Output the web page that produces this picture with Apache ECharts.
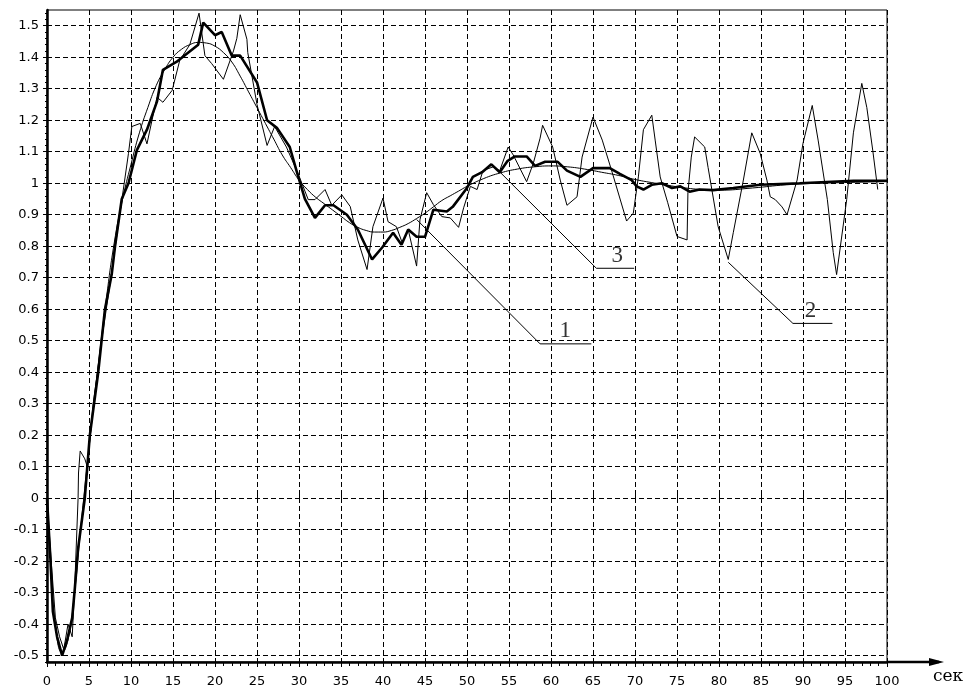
<!DOCTYPE html>
<html>
<head>
    <meta http-equiv="Content-Type" content="text/html; charset=utf-8" />
    <title></title>
    <script src="https://cdn.jsdelivr.net/npm/echarts@6/dist/echarts.min.js"></script>
    <style>
        html, body { margin: 0; padding: 0; background: #fff; }
    </style>
</head>
<body>
    <div id="main" style="width: 969px;height:688px;"></div>
</body>
<script type="text/javascript">
    // кривая 1 - жирная
    var time1 = [0, 0.4, 0.7, 1.2, 1.8, 2.4, 3.0, 3.3, 3.7, 4.5, 5.1, 6.1, 6.9, 7.7, 8.1, 8.9, 9.7, 10.7, 11.9, 13.1,
        13.8, 15.4, 18.0, 18.6, 20.0, 20.8, 22.0, 23.0, 25.0, 26.2, 27.4, 28.9, 29.7, 30.7, 31.9, 33.1, 34.1, 35.7, 37.0, 38.7,
        39.9, 41.2, 42.2, 43.0, 44.0, 45.0, 46.0, 47.6, 48.3, 50.0, 50.7, 51.8, 52.9, 53.9, 54.8, 55.7, 57.1, 58.1, 59.3, 60.8,
        61.9, 63.5, 65.0, 67.0, 68.2, 69.6, 70.2, 71.0, 72.0, 73.2, 74.4, 75.4, 76.5, 77.7, 79.3, 81.7, 84.9, 89.6, 96.0, 100];
    var value1 = [0, -0.19, -0.36, -0.44, -0.50, -0.45, -0.38, -0.29, -0.16, 0.0, 0.2, 0.4, 0.6, 0.71, 0.80, 0.95, 1.0, 1.105, 1.17, 1.26,
        1.36, 1.385, 1.44, 1.51, 1.47, 1.48, 1.405, 1.405, 1.32, 1.2, 1.175, 1.115, 1.04, 0.95, 0.89, 0.93, 0.93, 0.90, 0.853, 0.758,
        0.796, 0.843, 0.805, 0.853, 0.83, 0.83, 0.916, 0.91, 0.925, 0.985, 1.02, 1.035, 1.06, 1.035, 1.07, 1.085, 1.085, 1.055, 1.068, 1.068,
        1.04, 1.02, 1.048, 1.048, 1.03, 1.01, 0.99, 0.98, 0.995, 1.0, 0.985, 0.99, 0.973, 0.98, 0.978, 0.985, 0.995, 1.0, 1.008, 1.008];

    // кривая 2 - с шумом
    var time2 = [0, 0.5, 1.0, 1.5, 2.0, 2.5, 3.0, 3.3, 3.7, 3.75, 3.95, 4.5, 4.8, 5.5, 6.5, 7.5, 8.5, 9.7, 10.1, 11.1, 11.9,
        12.5, 13.1, 13.8, 14.9, 15.8, 17.0, 18.1, 18.8, 19.6, 21.0, 22.2, 22.6, 23.0, 23.8, 23.9, 25.0, 26.2, 27.1, 28.5, 29.9,
        31.1, 31.9, 33.1, 33.9, 35.1, 36.1, 37.0, 38.1, 38.8, 40.0, 40.6, 41.6, 42.3, 43.0, 44.0, 44.4, 45.2, 46.0, 47.0, 48.0,
        49.0, 49.6, 50.4, 51.2, 51.9, 53.1, 53.9, 54.9, 55.5, 57.1, 57.9, 58.7, 59.0, 60.2, 61.1, 61.9, 63.1, 63.7, 65.0, 66.1,
        67.3, 69.0, 69.8, 70.4, 71.0, 72.0, 72.4, 73.0, 73.9, 75.0, 76.2, 76.3, 76.7, 77.1, 78.3, 78.7, 79.9, 81.1, 81.7, 82.9,
        83.9, 84.9, 85.7, 86.1, 86.7, 87.5, 88.1, 89.3, 90.0, 91.1, 91.8, 92.9, 93.6, 94.0, 95.2, 96.0, 97.0, 97.6, 98.3, 98.9];
    var value2 = [0, -0.20, -0.38, -0.44, -0.48, -0.40, -0.44, -0.28, 0.0, 0.08, 0.15, 0.125, 0.10, 0.30, 0.50, 0.68, 0.87, 1.095, 1.18, 1.19, 1.125,
        1.2, 1.273, 1.257, 1.295, 1.39, 1.44, 1.54, 1.405, 1.38, 1.33, 1.42, 1.46, 1.535, 1.457, 1.415, 1.25, 1.12, 1.18, 1.115, 1.03,
        0.948, 0.948, 0.98, 0.93, 0.963, 0.926, 0.82, 0.726, 0.862, 0.953, 0.878, 0.862, 0.81, 0.853, 0.737, 0.884, 0.97, 0.932, 0.894, 0.89,
        0.86, 0.922, 0.99, 0.98, 1.04, 1.052, 1.04, 1.115, 1.09, 1.005, 1.064, 1.143, 1.184, 1.115, 1.01, 0.93, 0.957, 1.083, 1.21, 1.137,
        1.033, 0.88, 0.905, 1.02, 1.17, 1.216, 1.137, 1.02, 0.938, 0.831, 0.82, 0.97, 1.083, 1.147, 1.115, 1.05, 0.862, 0.758, 0.843, 1.01,
        1.16, 1.095, 1.01, 0.957, 0.948, 0.925, 0.9, 1.01, 1.127, 1.247, 1.137, 0.948, 0.78, 0.71, 0.948, 1.16, 1.317, 1.24, 1.105, 0.98];

    // кривая 3 - гладкая
    var time3 = [0, 0.5, 1.0, 1.8, 2.5, 3.2, 4.0, 5.0, 6.0, 7.0, 8.0, 9.0, 10.0, 11.0, 12.0, 13.0, 14.0, 15.0, 16.0, 17.0,
        18.0, 19.0, 20.0, 21.0, 22.0, 23.0, 24.0, 25.0, 26.0, 27.0, 28.0, 29.0, 30.0, 31.0, 32.0, 33.0, 34.0, 35.0, 36.0, 37.0,
        38.0, 39.0, 40.0, 41.0, 42.0, 43.0, 44.0, 45.0, 46.0, 47.0, 48.0, 49.0, 50.0, 52.0, 54.0, 56.0, 58.0, 60.0, 62.0, 64.0,
        66.0, 68.0, 70.0, 72.0, 74.0, 76.0, 78.0, 80.0, 84.0, 88.0, 92.0, 100];
    var value3 = [0, -0.22, -0.40, -0.49, -0.45, -0.32, -0.10, 0.16, 0.40, 0.62, 0.81, 0.95, 1.06, 1.16, 1.24, 1.31, 1.36, 1.40, 1.425, 1.44,
        1.447, 1.445, 1.435, 1.415, 1.385, 1.34, 1.29, 1.24, 1.19, 1.14, 1.09, 1.05, 1.01, 0.98, 0.955, 0.935, 0.915, 0.895, 0.875, 0.86,
        0.85, 0.845, 0.845, 0.85, 0.86, 0.872, 0.888, 0.905, 0.925, 0.945, 0.96, 0.975, 0.99, 1.015, 1.033, 1.045, 1.052, 1.055, 1.052, 1.045,
        1.035, 1.025, 1.012, 1.002, 0.993, 0.985, 0.98, 0.978, 0.985, 0.995, 1.0, 1.005];

    // выноски с номерами кривых
    var calloutNames = ['1', '3', '2'];
    var calloutFrom = [[44.0, 0.885], [53.9, 1.036], [81.1, 0.749]];
    var calloutBend = [[58.7, 0.49], [65.4, 0.73], [88.8, 0.555]];
    var calloutEnd = [[64.8, 0.49], [69.9, 0.73], [93.5, 0.555]];
    var calloutText = [[61.7, 0.49], [67.9, 0.73], [90.9, 0.555]];

    var yTickLabels = [-0.5, -0.4, -0.3, -0.2, -0.1, 0, 0.1, 0.2, 0.3, 0.4, 0.5, 0.6, 0.7, 0.8, 0.9, 1, 1.1, 1.2, 1.3, 1.4, 1.5];

    function zip(ts, vs) {
        return ts.map(function (t, i) { return [t, vs[i]]; });
    }

    // мелкие деления по оси Y через 0.02
    var yMinor = [];
    for (var k = -26; k <= 77; k++) {
        if (k % 5 !== 0) yMinor.push(Math.round(k * 2) / 100);
    }

    var fontAxis = 'DejaVu Sans, Verdana, sans-serif';
    var dash = [5, 3];
    var black = { color: '#000', width: 1 };

    var myChart = echarts.init(document.getElementById('main'));

    var series = [];
    for (var c = 0; c < calloutNames.length; c++) {
        series.push({
            name: 'leader' + calloutNames[c],
            type: 'line',
            showSymbol: false,
            silent: true,
            data: [calloutFrom[c], calloutBend[c], calloutEnd[c]],
            lineStyle: { color: '#000', width: 1 },
            z: 1
        });
    }
    series.push({
        name: 'labels',
        type: 'scatter',
        symbolSize: 0,
        silent: true,
        data: calloutText.map(function (p, i) { return { value: p, name: calloutNames[i] }; }),
        label: {
            show: true,
            formatter: '{b}',
            position: 'top',
            distance: 1,
            color: '#000',
            fontFamily: 'Liberation Serif, Times New Roman, serif',
            fontSize: 23
        }
    });
    series.push({
        name: '2',
        type: 'line',
        showSymbol: false,
        data: zip(time2, value2),
        lineStyle: { color: '#000', width: 1 },
        z: 2
    });
    series.push({
        name: '3',
        type: 'line',
        showSymbol: false,
        smooth: true,
        data: zip(time3, value3),
        lineStyle: { color: '#000', width: 1 },
        z: 3
    });
    series.push({
        name: '1',
        type: 'line',
        showSymbol: false,
        data: zip(time1, value1),
        lineStyle: { color: '#000', width: 2.6 },
        z: 4
    });

    var option = {
        animation: false,
        backgroundColor: '#fff',
        grid: {
            left: 47,
            top: 10,
            width: 840,
            height: 653,
            show: true,
            borderColor: '#000',
            borderWidth: 1
        },
        xAxis: [{
            type: 'value',
            position: 'bottom',
            min: 0,
            max: 100,
            interval: 5,
            name: 'сек',
            nameLocation: 'end',
            nameGap: 46,
            nameTextStyle: {
                color: '#000',
                fontFamily: 'DejaVu Serif, serif',
                fontSize: 17,
                align: 'left',
                verticalAlign: 'top',
                padding: [6, 0, 0, 0]
            },
            axisLine: { onZero: false, lineStyle: { color: '#000', width: 2.5 } },
            axisTick: { inside: false, length: 5, lineStyle: black },
            minorTick: { show: true, splitNumber: 5, length: 4, lineStyle: black },
            splitLine: { show: true, lineStyle: { color: '#000', width: 1, type: dash } },
            axisLabel: { color: '#000', fontFamily: fontAxis, fontSize: 13, margin: 13 }
        }, {
            // верхняя половина крупных делений оси X
            type: 'value',
            position: 'bottom',
            min: 0,
            max: 100,
            interval: 5,
            axisLine: { show: false },
            axisTick: { inside: true, length: 5, lineStyle: black },
            splitLine: { show: false },
            axisLabel: { show: false }
        }],
        yAxis: [{
            type: 'value',
            position: 'left',
            min: -0.52,
            max: 1.55,
            axisLine: { onZero: false, lineStyle: { color: '#000', width: 2.5 } },
            axisTick: { show: true, length: 4, customValues: yTickLabels, lineStyle: black },
            splitLine: { show: true, lineStyle: { color: '#000', width: 1, type: dash } },
            axisLabel: {
                color: '#000',
                fontFamily: fontAxis,
                fontSize: 13,
                margin: 8,
                customValues: yTickLabels,
                formatter: function (v) { return String(+(+v).toFixed(1)); }
            }
        }, {
            type: 'value',
            position: 'left',
            min: -0.52,
            max: 1.55,
            axisLine: { show: false },
            axisTick: { show: true, length: 2, customValues: yMinor, lineStyle: black },
            splitLine: { show: false },
            axisLabel: { show: false }
        }, {
            type: 'value',
            position: 'left',
            min: -0.52,
            max: 1.55,
            axisLine: { show: false },
            axisTick: { show: true, inside: true, length: 4, customValues: yTickLabels, lineStyle: black },
            splitLine: { show: false },
            axisLabel: { show: false }
        }],
        series: series
    };

    myChart.setOption(option);

    // продолжение оси X со стрелкой
    var p0 = myChart.convertToPixel({ gridIndex: 0 }, [100, -0.52]);
    myChart.setOption({
        graphic: [{
            type: 'line',
            shape: { x1: p0[0], y1: p0[1], x2: p0[0] + 52, y2: p0[1] },
            style: { stroke: '#000', lineWidth: 2.5 },
            silent: true
        }, {
            type: 'polygon',
            shape: { points: [[p0[0] + 42, p0[1] - 4], [p0[0] + 57, p0[1]], [p0[0] + 42, p0[1] + 4]] },
            style: { fill: '#000' },
            silent: true
        }]
    });
</script>
</html>
